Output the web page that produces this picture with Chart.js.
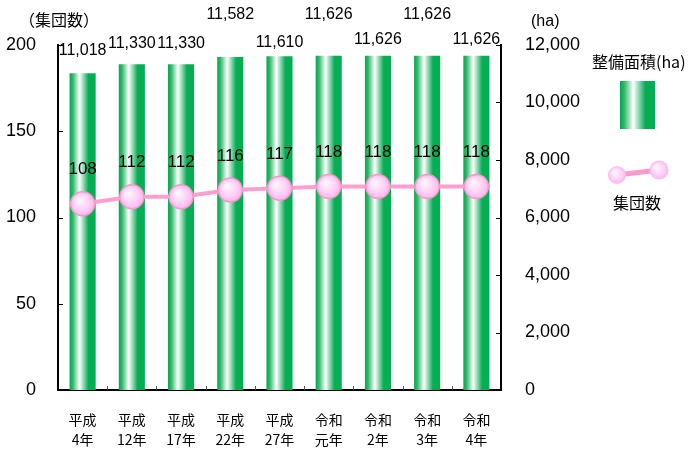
<!DOCTYPE html>
<html lang="ja">
<head>
  <meta charset="UTF-8" />
  <title>集団数と整備面積</title>
  <script src="https://cdn.jsdelivr.net/npm/chart.js"></script>
  <style>
    html, body { margin: 0; padding: 0; background: #fff; }
    #wrap { width: 698px; height: 452px; }
  </style>
</head>
<body>
  <div id="wrap"><canvas id="grafico" width="698" height="452"></canvas></div>

  <script>
    const nendo = [["平成", "4年"], ["平成", "12年"], ["平成", "17年"], ["平成", "22年"], ["平成", "27年"],
                   ["令和", "元年"], ["令和", "2年"], ["令和", "3年"], ["令和", "4年"]];
    const menseki = [11018, 11330, 11330, 11582, 11610, 11626, 11626, 11626, 11626];
    const shudansu = [108, 112, 112, 116, 117, 118, 118, 118, 118];
    const ticksLeft = [0, 50, 100, 150, 200];
    const ticksRight = [0, 2000, 4000, 6000, 8000, 10000, 12000];

    // how far above the bar top each area label sits (the original staggers them)
    const labelRaise = [23, 21, 21, 42, 14, 41, 16, 41, 16];

    const FONT_NUM = "Arial, 'Liberation Sans', sans-serif";
    const FONT_JP = "'Noto Sans CJK JP', sans-serif";
    const BAR_PCT = 0.53;

    function barGradient(ctx, x0, x1) {
      const g = ctx.createLinearGradient(x0, 0, x1, 0);
      g.addColorStop(0, "#00a84f");
      g.addColorStop(0.12, "#2fb86a");
      g.addColorStop(0.38, "#ffffff");
      g.addColorStop(0.72, "#09ac55");
      g.addColorStop(1, "#00b050");
      return g;
    }

    function pointGradient(ctx, x, y, r) {
      const g = ctx.createRadialGradient(x - r * 0.3, y - r * 0.35, r * 0.1, x, y, r);
      g.addColorStop(0, "#fff6fd");
      g.addColorStop(0.6, "#ffd2f6");
      g.addColorStop(1, "#ffb4ee");
      return g;
    }

    const fixedSize = (w, h) => function (scale) {
      if (w !== null) scale.width = w;
      if (h !== null) scale.height = h;
    };

    const extras = {
      id: "extras",
      afterDraw(chart) {
        const { ctx, chartArea: a, scales } = chart;
        const xs = scales.x;
        ctx.save();

        // inward tick marks
        ctx.strokeStyle = "#000";
        ctx.lineWidth = 1;
        ticksLeft.forEach(v => {
          const y = Math.round(scales.yL.getPixelForValue(v)) + 0.5;
          ctx.beginPath(); ctx.moveTo(a.left, y); ctx.lineTo(a.left + 5, y); ctx.stroke();
        });
        ticksRight.forEach(v => {
          const y = Math.round(scales.yR.getPixelForValue(v)) + 0.5;
          ctx.beginPath(); ctx.moveTo(a.right - 5, y); ctx.lineTo(a.right, y); ctx.stroke();
        });
        const step = xs.width / nendo.length;
        for (let i = 1; i < nendo.length; i++) {
          const x = Math.round(a.left + step * i) + 0.5;
          ctx.strokeStyle = "#555";
          ctx.beginPath(); ctx.moveTo(x, a.bottom - 4); ctx.lineTo(x, a.bottom); ctx.stroke();
        }

        // value labels
        ctx.fillStyle = "#000";
        ctx.textAlign = "center";
        ctx.textBaseline = "middle";
        ctx.font = "16px " + FONT_NUM;
        menseki.forEach((v, i) => {
          const x = xs.getPixelForValue(i);
          const y = scales.yR.getPixelForValue(v) - labelRaise[i];
          ctx.fillText(v.toLocaleString("en-US"), x, y);
        });
        ctx.font = "17px " + FONT_NUM;
        shudansu.forEach((v, i) => {
          const x = xs.getPixelForValue(i);
          const y = scales.yL.getPixelForValue(v) - 34;
          ctx.fillText(String(v), x, y);
        });

        // axis titles
        ctx.font = "16px " + FONT_JP;
        ctx.textAlign = "left";
        ctx.fillText("（集団数）", 19, 20);
        ctx.font = "16px " + FONT_NUM;
        ctx.fillText("(ha)", 531, 22);

        // legend
        ctx.font = "16px " + FONT_JP;
        ctx.fillText("整備面積(ha)", 592, 62);
        ctx.fillStyle = barGradient(ctx, 620, 655);
        ctx.fillRect(620, 81, 35, 48);

        ctx.strokeStyle = "#ff99cc";
        ctx.lineWidth = 5;
        ctx.beginPath(); ctx.moveTo(617, 175); ctx.lineTo(659, 170); ctx.stroke();
        [[617, 175, 9], [659, 170, 9.5]].forEach(([x, y, r]) => {
          ctx.beginPath();
          ctx.arc(x, y, r, 0, Math.PI * 2);
          ctx.fillStyle = pointGradient(ctx, x, y, r);
          ctx.fill();
        });
        ctx.fillStyle = "#000";
        ctx.textAlign = "center";
        ctx.fillText("集団数", 637, 203);

        ctx.restore();
      }
    };

    new Chart(document.getElementById("grafico"), {
      data: {
        labels: nendo,
        datasets: [
          {
            type: "line",
            label: "集団数",
            data: shudansu,
            yAxisID: "yL",
            borderColor: "#ff9fd0",
            borderWidth: 4,
            pointRadius: 12,
            pointHoverRadius: 12,
            pointBorderColor: "#f59ac8",
            pointBorderWidth: 1.5,
            pointBackgroundColor(c) {
              const chart = c.chart;
              if (!chart.chartArea || c.dataIndex === undefined) return "#ffd0f4";
              const x = chart.scales.x.getPixelForValue(c.dataIndex);
              const y = chart.scales.yL.getPixelForValue(shudansu[c.dataIndex]);
              return pointGradient(chart.ctx, x, y, 12);
            },
            order: 0
          },
          {
            type: "bar",
            label: "整備面積(ha)",
            data: menseki,
            yAxisID: "yR",
            categoryPercentage: 1,
            barPercentage: BAR_PCT,
            backgroundColor(c) {
              const chart = c.chart;
              if (!chart.chartArea || c.dataIndex === undefined) return "#00b050";
              const xs = chart.scales.x;
              const cx = xs.getPixelForValue(c.dataIndex);
              const w = xs.width / nendo.length * BAR_PCT;
              return barGradient(chart.ctx, cx - w / 2, cx + w / 2);
            },
            order: 1
          }
        ]
      },
      options: {
        responsive: false,
        animation: false,
        layout: { padding: { top: 45, right: 0, left: 0, bottom: 0 } },
        plugins: { legend: { display: false }, tooltip: { enabled: false } },
        scales: {
          x: {
            grid: { display: false },
            border: { display: true, color: "#000", width: 2 },
            ticks: {
              color: "#000",
              font: { family: FONT_JP, size: 14, lineHeight: "20px" },
              padding: 12,
              maxRotation: 0,
              autoSkip: false
            },
            afterFit: fixedSize(null, 62)
          },
          yL: {
            position: "left",
            min: 0,
            max: 200,
            afterBuildTicks(s) { s.ticks = ticksLeft.map(v => ({ value: v })); },
            grid: { display: false },
            border: { display: true, color: "#000", width: 2 },
            ticks: { color: "#000", font: { family: FONT_NUM, size: 18 }, padding: 14 },
            afterFit: fixedSize(58, null)
          },
          yR: {
            position: "right",
            min: 0,
            max: 12000,
            afterBuildTicks(s) { s.ticks = ticksRight.map(v => ({ value: v })); },
            grid: { display: false },
            border: { display: true, color: "#000", width: 2 },
            ticks: {
              color: "#000",
              font: { family: FONT_NUM, size: 18 },
              padding: 16,
              callback: v => v.toLocaleString("en-US")
            },
            afterFit: fixedSize(197, null)
          }
        }
      },
      plugins: [extras]
    });
  </script>
</body>
</html>
